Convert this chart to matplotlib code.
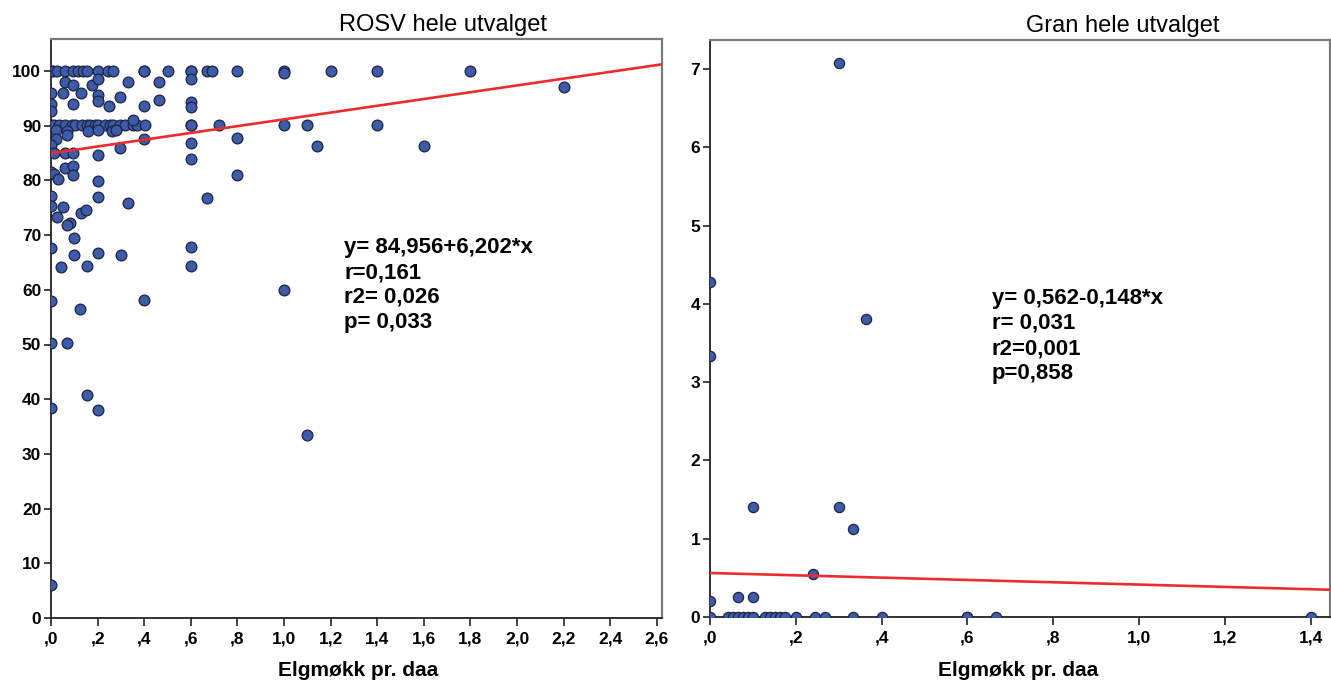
import numpy as np
import matplotlib
matplotlib.use("Agg")
import matplotlib.pyplot as plt
from matplotlib.ticker import FixedLocator, FuncFormatter

plt.rcParams['font.family'] = ['Liberation Sans', 'DejaVu Sans']

# ---------------- data ----------------
titles = ["ROSV hele utvalget", "Gran hele utvalget"]
xlabel = "Elgmøkk pr. daa"

rosv_x = [
    # row at 100
    0.0, 0.01, 0.025, 0.06, 0.096, 0.117, 0.139, 0.153, 0.2, 0.246, 0.268, 0.4, 0.4, 0.5,
    0.6, 0.6, 0.67, 0.69, 0.8, 1.0, 1.0, 1.2, 1.4, 1.8,
    # 92-99
    0.06, 0.096, 0.175, 0.2, 0.33, 0.465, 0.6, 0.0, 0.05, 0.13, 0.096, 0.2, 0.2, 0.25,
    0.296, 0.4, 0.465, 0.6, 0.6, 0.0, 0.0, 2.2,
    # row at 90
    0.0, 0.013, 0.035, 0.06, 0.089, 0.103, 0.132, 0.153, 0.167, 0.189, 0.203, 0.232, 0.253,
    0.267, 0.296, 0.317, 0.35, 0.367, 0.403, 0.6, 0.72, 1.0, 1.1, 1.4, 0.35,
    # row at ~89
    0.02, 0.07, 0.16, 0.2, 0.26, 0.28,
    # 80-88
    0.02, 0.07, 0.4, 0.0, 0.015, 0.06, 0.096, 0.2, 0.296, 0.6, 0.8, 0.6, 1.14, 1.6,
    0.06, 0.096, 0.0, 0.015, 0.03, 0.096, 0.2, 0.8, 0.6,
    # 70-79
    0.0, 0.2, 0.33, 0.0, 0.05, 0.13, 0.15, 0.027, 0.08, 0.07, 0.67,
    # lower
    0.1, 0.0, 0.2, 0.1, 0.3, 0.043, 0.155, 0.6, 0.6, 0.0, 0.125, 0.4, 1.0,
    0.0, 0.07, 0.155, 0.0, 0.2, 1.1, 0.0,
]
rosv_y = [
    100, 100, 100, 100, 100, 100, 100, 100, 100, 100, 100, 100, 100, 100,
    100, 100, 100, 100, 100, 100, 99.6, 100, 100, 100,
    98.0, 97.4, 97.4, 98.5, 97.9, 98.0, 98.6, 96.0, 95.9, 95.9, 93.9, 95.7, 94.6, 93.6,
    95.2, 93.6, 94.7, 94.4, 93.4, 93.9, 92.7, 97.0,
    90.2, 90.2, 90.2, 90.2, 90.2, 90.2, 90.2, 90.2, 90.2, 90.2, 90.2, 90.2, 90.2,
    90.2, 90.2, 90.2, 90.2, 90.2, 90.2, 90.2, 90.2, 90.2, 90.2, 90.2, 91.0,
    89.2, 89.0, 89.0, 89.2, 89.0, 89.2,
    87.5, 88.3, 87.5, 86.5, 85.1, 85.1, 85.1, 84.6, 85.9, 86.8, 87.7, 83.9, 86.2, 86.2,
    82.3, 82.6, 81.5, 81.2, 80.2, 81.0, 79.8, 81.0, 90.2,
    77.2, 76.9, 75.8, 75.3, 75.1, 74.1, 74.5, 73.3, 72.3, 71.8, 76.7,
    69.4, 67.6, 66.8, 66.3, 66.3, 64.1, 64.3, 67.8, 64.3, 57.9, 56.5, 58.2, 60.0,
    50.3, 50.3, 40.8, 38.4, 38.1, 33.5, 6.0,
]

gran_x = [0.0, 0.0, 0.0, 0.0,
          0.043, 0.054, 0.066, 0.078, 0.089, 0.101,
          0.066, 0.1, 0.1,
          0.128, 0.14, 0.151, 0.163, 0.175, 0.2,
          0.24, 0.245, 0.268, 0.3, 0.3, 0.333, 0.333, 0.364, 0.4, 0.6, 0.6, 0.667, 1.4]
gran_y = [0.0, 0.2, 3.33, 4.28,
          0.0, 0.0, 0.0, 0.0, 0.0, 0.0,
          0.25, 0.25, 1.4,
          0.0, 0.0, 0.0, 0.0, 0.0, 0.0,
          0.55, 0.0, 0.0, 1.4, 7.08, 1.12, 0.0, 3.8, 0.0, 0.0, 0.0, 0.0, 0.0]

rosv_fit = (84.956, 6.202)
gran_fit = (0.562, -0.148)

rosv_stats = ["y= 84,956+6,202*x", "r=0,161", "r2= 0,026", "p= 0,033"]
gran_stats = ["y= 0,562-0,148*x", "r= 0,031", "r2=0,001", "p=0,858"]

rosv_xticks = [0.0, 0.2, 0.4, 0.6, 0.8, 1.0, 1.2, 1.4, 1.6, 1.8, 2.0, 2.2, 2.4, 2.6]
rosv_yticks = [0, 10, 20, 30, 40, 50, 60, 70, 80, 90, 100]
gran_xticks = [0.0, 0.2, 0.4, 0.6, 0.8, 1.0, 1.2, 1.4]
gran_yticks = [0, 1, 2, 3, 4, 5, 6, 7]

# ---------------- style ----------------
W, H = 1331, 687
fig = plt.figure(figsize=(W / 100, H / 100), dpi=100)

def fx(px):
    return px / W

def fy(py):
    return 1 - py / H

dot_face = '#3E5BAA'
dot_edge = '#1C2440'
line_col = '#EC2B2E'

def fmt_x(v, pos):
    s = f"{v:.1f}".replace('.', ',')
    if s.startswith('0'):
        s = s[1:]
    return s

def fmt_y(v, pos):
    return f"{v:g}"

def style_axes(ax, xticks, yticks):
    ax.xaxis.set_major_locator(FixedLocator(xticks))
    ax.yaxis.set_major_locator(FixedLocator(yticks))
    ax.xaxis.set_major_formatter(FuncFormatter(fmt_x))
    ax.yaxis.set_major_formatter(FuncFormatter(fmt_y))
    for sp in ['left', 'bottom']:
        ax.spines[sp].set_color('#222222')
        ax.spines[sp].set_linewidth(1.3)
    for sp in ['top', 'right']:
        ax.spines[sp].set_color('#7a7a7a')
        ax.spines[sp].set_linewidth(1.6)
    ax.tick_params(axis='both', direction='out', length=5, width=1.2, color='#222222',
                   labelsize=12.5, pad=2)
    ax.tick_params(axis='x', length=6, pad=4)
    for lab in ax.get_xticklabels() + ax.get_yticklabels():
        lab.set_fontweight('bold')

# left axes
ax1 = fig.add_axes([fx(51), fy(618), fx(662 - 51), (618 - 39) / H])
ax1.set_xlim(0, (662 - 51) / 233.0)
ax1.set_ylim(0, (618 - 39) / 5.47)
ax1.scatter(rosv_x, rosv_y, s=60, facecolor=dot_face, edgecolor=dot_edge, linewidth=0.9, zorder=3)
xl = np.array(ax1.get_xlim())
ax1.plot(xl, rosv_fit[0] + rosv_fit[1] * xl, color=line_col, lw=1.9, zorder=4)
style_axes(ax1, rosv_xticks, rosv_yticks)

# right axes
ax2 = fig.add_axes([fx(710), fy(617), fx(1330 - 710), (617 - 40) / H])
ax2.set_xlim(0, (1330 - 710) / 429.0)
ax2.set_ylim(0, (617 - 40) / 78.3)
ax2.scatter(gran_x, gran_y, s=54, facecolor=dot_face, edgecolor=dot_edge, linewidth=0.9, zorder=3)
xl2 = np.array(ax2.get_xlim())
ax2.plot(xl2, gran_fit[0] + gran_fit[1] * xl2, color=line_col, lw=1.9, zorder=4)
style_axes(ax2, gran_xticks, gran_yticks)

# titles and axis labels
fig.text(fx(443), fy(25), titles[0], ha='center', va='center', fontsize=17)
fig.text(fx(1123), fy(26), titles[1], ha='center', va='center', fontsize=17)
fig.text(fx(358), fy(671), xlabel, ha='center', va='center', fontsize=15, fontweight='bold')
fig.text(fx(1018), fy(671), xlabel, ha='center', va='center', fontsize=15, fontweight='bold')

# stats annotations
for i, t in enumerate(rosv_stats):
    fig.text(fx(344), fy(248 + i * 24.7), t, ha='left', va='center', fontsize=16, fontweight='bold')
for i, t in enumerate(gran_stats):
    fig.text(fx(992), fy(298 + i * 25.3), t, ha='left', va='center', fontsize=16, fontweight='bold')

fig.savefig('out.png', dpi=100)
